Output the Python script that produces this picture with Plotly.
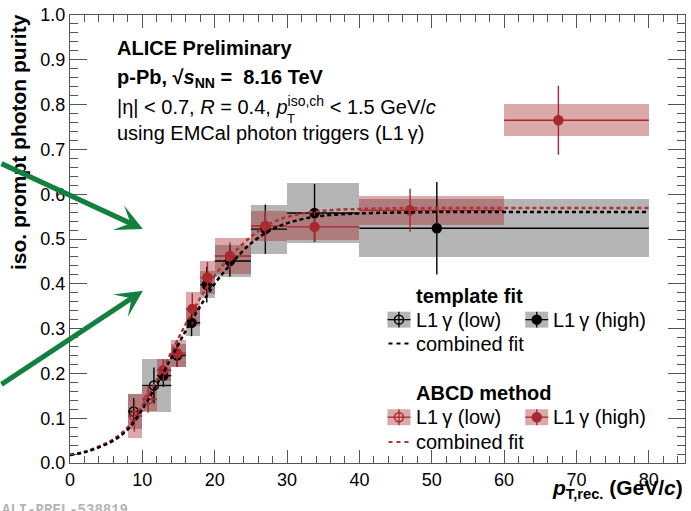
import plotly.graph_objects as go

# ---------------- data ----------------
# template fit, L1 gamma (low)
tf_low_x = [8.8, 11.6]
tf_low_y = [0.115, 0.173]
tf_low_lo = [8, 10]
tf_low_hi = [10, 14]
tf_low_stat = [0.03, 0.04]
tf_low_sys = [0.04, 0.06]

# template fit, L1 gamma (high)
tf_high_x = [12.9, 14.8, 16.8, 18.9, 22.1, 27.0, 33.8, 50.7]
tf_high_y = [0.195, 0.240, 0.313, 0.398, 0.451, 0.522, 0.558, 0.524]
tf_high_lo = [12, 14, 16, 18, 20, 25, 30, 40]
tf_high_hi = [14, 16, 18, 20, 25, 30, 40, 80]
tf_high_stat = [0.025, 0.025, 0.03, 0.04, 0.035, 0.055, 0.065, 0.103]
tf_high_sys = [0.02, 0.025, 0.03, 0.03, 0.035, 0.055, 0.066, 0.065]

# ABCD method, L1 gamma (low)
abcd_low_x = [8.9, 10.8]
abcd_low_y = [0.105, 0.142]
abcd_low_lo = [8, 10]
abcd_low_hi = [10, 12]
abcd_low_stat = [0.035, 0.03]
abcd_low_sys = [0.05, 0.027]

# ABCD method, L1 gamma (high)
abcd_high_x = [12.9, 14.8, 16.9, 19.0, 22.1, 27.0, 33.8, 47.0, 67.5]
abcd_high_y = [0.207, 0.245, 0.344, 0.414, 0.462, 0.529, 0.527, 0.564, 0.765]
abcd_high_lo = [12, 14, 16, 18, 20, 25, 30, 40, 60]
abcd_high_hi = [14, 16, 18, 20, 25, 30, 40, 60, 80]
abcd_high_stat = [0.025, 0.03, 0.035, 0.035, 0.03, 0.035, 0.033, 0.048, 0.077]
abcd_high_sys = [0.025, 0.03, 0.038, 0.037, 0.041, 0.033, 0.03, 0.033, 0.036]

# combined fits
fit_x = [0, 2, 4, 6, 8, 10, 12, 14, 16, 18, 20, 22, 25, 28, 31, 35, 40, 50, 60, 80]
fit_tf_y = [0.018, 0.024, 0.035, 0.050, 0.075, 0.120, 0.175, 0.235, 0.295, 0.350,
            0.400, 0.440, 0.490, 0.522, 0.540, 0.552, 0.557, 0.560, 0.560, 0.560]
fit_abcd_y = [0.018, 0.025, 0.037, 0.053, 0.080, 0.128, 0.185, 0.247, 0.310, 0.368,
              0.418, 0.458, 0.505, 0.537, 0.553, 0.563, 0.567, 0.569, 0.569, 0.569]

x_ticks = [0, 10, 20, 30, 40, 50, 60, 70, 80]

# ---------------- styling ----------------
W, H = 691, 511
ML, MR, MT, MB = 70, 5, 13, 48
PW, PH = W - ML - MR, H - MT - MB

BLACK = "#000000"
RED = "#a8282d"
GRAY_BOX = "rgba(160,160,160,0.78)"
RED_BOX = "rgba(168,40,45,0.40)"
GREEN = "#14803f"
FONT = "Liberation Sans, Arial, Helvetica, sans-serif"


def px(xp):
    return (xp - ML) / PW


def py(yp):
    return (MT + PH - yp) / PH


fig = go.Figure()


def add_boxes(xl, xh, y, sys, color):
    fig.add_trace(go.Bar(
        x=[(a + b) / 2 for a, b in zip(xl, xh)],
        width=[b - a for a, b in zip(xl, xh)],
        base=[v - s for v, s in zip(y, sys)],
        y=[2 * s for s in sys],
        marker=dict(color=color, line=dict(width=0)),
        showlegend=False, hoverinfo="skip"))


def add_points(x, y, xl, xh, stat, color, symbol):
    fig.add_trace(go.Scatter(
        x=x, y=y, mode="markers",
        marker=dict(symbol=symbol, size=9, color=color,
                    line=dict(width=1.5, color=color)),
        error_x=dict(type="data", symmetric=False,
                     array=[b - v for b, v in zip(xh, x)],
                     arrayminus=[v - a for a, v in zip(xl, x)],
                     width=0, thickness=1.4, color=color),
        error_y=dict(type="data", array=stat, width=0, thickness=1.4, color=color),
        showlegend=False, hoverinfo="skip"))


# systematic boxes
add_boxes(tf_low_lo, tf_low_hi, tf_low_y, tf_low_sys, GRAY_BOX)
add_boxes(tf_high_lo, tf_high_hi, tf_high_y, tf_high_sys, GRAY_BOX)
add_boxes(abcd_low_lo, abcd_low_hi, abcd_low_y, abcd_low_sys, RED_BOX)
add_boxes(abcd_high_lo, abcd_high_hi, abcd_high_y, abcd_high_sys, RED_BOX)

# points with stat errors
add_points(tf_low_x, tf_low_y, tf_low_lo, tf_low_hi, tf_low_stat, BLACK, "circle-open")
add_points(tf_high_x, tf_high_y, tf_high_lo, tf_high_hi, tf_high_stat, BLACK, "circle")
add_points(abcd_low_x, abcd_low_y, abcd_low_lo, abcd_low_hi, abcd_low_stat, RED, "circle-open")
add_points(abcd_high_x, abcd_high_y, abcd_high_lo, abcd_high_hi, abcd_high_stat, RED, "circle")

# combined fits
fig.add_trace(go.Scatter(x=fit_x, y=fit_abcd_y, mode="lines",
                         line=dict(color="#b03232", width=2.5, dash="4px,3px", shape="spline"),
                         showlegend=False, hoverinfo="skip"))
fig.add_trace(go.Scatter(x=fit_x, y=fit_tf_y, mode="lines",
                         line=dict(color=BLACK, width=2.5, dash="4px,3px", shape="spline"),
                         showlegend=False, hoverinfo="skip"))

# ---------------- manual legend ----------------
shapes = []
leg_rows = [
    # (y pixel, box color, marker color, symbol, column x0)
    (319, GRAY_BOX, BLACK, "circle-open", 388),
    (319, GRAY_BOX, BLACK, "circle", 526),
    (417, RED_BOX, RED, "circle-open", 388),
    (417, RED_BOX, RED, "circle", 526),
]
lx, ly, lc, ls = [], [], [], []
for yy, bc, mc, sym, x0 in leg_rows:
    shapes.append(dict(type="rect", xref="paper", yref="paper",
                       x0=px(x0), x1=px(x0 + 23), y0=py(yy - 8), y1=py(yy + 8),
                       fillcolor=bc, line=dict(width=0), layer="below"))
    shapes.append(dict(type="line", xref="paper", yref="paper",
                       x0=px(x0), x1=px(x0 + 23), y0=py(yy), y1=py(yy),
                       line=dict(color=mc, width=1.3), layer="below"))
    shapes.append(dict(type="line", xref="paper", yref="paper",
                       x0=px(x0 + 11.5), x1=px(x0 + 11.5), y0=py(yy - 8), y1=py(yy + 8),
                       line=dict(color=mc, width=1.3), layer="below"))
    lx.append(px(x0 + 11.5)); ly.append(py(yy)); lc.append(mc); ls.append(sym)
for yy, col in [(343, BLACK), (442, "#b03232")]:
    shapes.append(dict(type="line", xref="paper", yref="paper",
                       x0=px(389), x1=px(411), y0=py(yy), y1=py(yy),
                       line=dict(color=col, width=2, dash="4px,4px"), layer="above"))

fig.add_trace(go.Scatter(x=lx, y=ly, xaxis="x2", yaxis="y2", mode="markers",
                         marker=dict(symbol=ls, size=9, color=lc, line=dict(width=1.5, color=lc)),
                         showlegend=False, hoverinfo="skip", cliponaxis=False))

ann = []


def text(xp_, yp_, s, size=20, anchor="left", color="black", family=FONT, yanchor="middle"):
    ann.append(dict(x=px(xp_), y=py(yp_), xref="paper", yref="paper", text=s,
                    showarrow=False, xanchor=anchor, yanchor=yanchor,
                    font=dict(size=size, color=color, family=family)))


text(415, 295, "<b>template fit</b>")
text(415, 319, "L1\u2009γ (low)")
text(552, 319, "L1\u2009γ (high)")
text(415, 343, "combined fit")
text(415, 393, "<b>ABCD method</b>")
text(415, 417, "L1\u2009γ (low)")
text(552, 417, "L1\u2009γ (high)")
text(415, 442, "combined fit")

# header text
text(115, 46, "<b>ALICE Preliminary</b>")
text(115, 77, "<b>p-Pb, √<i>s</i><sub>NN</sub> =  8.16 TeV</b>")
text(115, 104, "|η| < 0.7, <i>R</i> = 0.4, <i>p</i><sup>iso,ch</sup> < 1.5 GeV/<i>c</i>")
text(285, 117, "T", size=13)
text(115, 132, "using EMCal photon triggers (L1\u2009γ)")

# axis titles
ann.append(dict(x=px(18), y=py(10), xref="paper", yref="paper",
                text="<b>iso. prompt photon purity</b>", textangle=-90,
                showarrow=False, xanchor="center", yanchor="top",
                font=dict(size=21, color="black", family=FONT)))
ann.append(dict(x=px(686), y=py(489), xref="paper", yref="paper",
                text="<b><i>p</i></b><sub><b>T,rec.</b></sub><b> (GeV/<i>c</i>)</b>",
                showarrow=False, xanchor="right", yanchor="middle",
                font=dict(size=21, color="black", family=FONT)))

# preliminary id
ann.append(dict(x=px(0), y=py(500), xref="paper", yref="paper",
                text="<b>ALI-PREL-538819</b>", showarrow=False,
                xanchor="left", yanchor="top",
                font=dict(size=14, color="#b4b4b4", family="Liberation Mono, Courier New, monospace")))

# green arrows
for tip, tail in [((143, 228), (-20, 170 - 0.4056 * 20)), ((143, 290), (-20, 373 + 0.58 * 20))]:
    ann.append(dict(x=px(tip[0]), y=py(tip[1]), xref="paper", yref="paper",
                    ax=tail[0] - tip[0], ay=tail[1] - tip[1], axref="pixel", ayref="pixel",
                    text="", showarrow=True, arrowhead=3, arrowsize=0.9, arrowwidth=5,
                    arrowcolor=GREEN, standoff=0))

axis_common = dict(showgrid=False, zeroline=False, showline=True, linecolor="#555555",
                   linewidth=1, mirror="ticks", ticks="inside", tickcolor="#555555",
                   tickfont=dict(size=18, color="black", family=FONT))

fig.update_layout(
    width=W, height=H,
    margin=dict(l=ML, r=MR, t=MT, b=MB, pad=0),
    paper_bgcolor="white", plot_bgcolor="white",
    barmode="overlay", bargap=0,
    showlegend=False,
    xaxis=dict(range=[0, 85], tickvals=x_ticks, ticklen=13, tickwidth=1,
               minor=dict(ticks="inside", dtick=2, ticklen=7, tickcolor="#555555"),
               **axis_common),
    yaxis=dict(range=[0, 1], dtick=0.1, tickformat=".1f", ticklen=17, tickwidth=1,
               minor=dict(ticks="inside", dtick=0.02, ticklen=8, tickcolor="#555555"),
               **axis_common),
    xaxis2=dict(overlaying="x", range=[0, 1], visible=False),
    yaxis2=dict(overlaying="y", range=[0, 1], visible=False),
    shapes=shapes,
    annotations=ann,
)

fig.write_html("out.html")
